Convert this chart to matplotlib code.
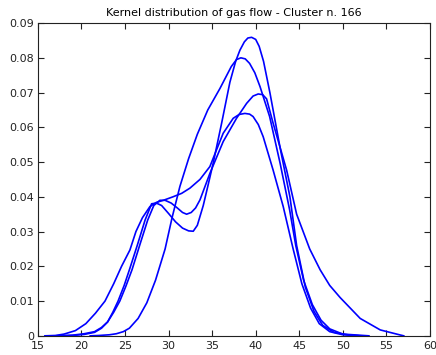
import matplotlib
matplotlib.use('Agg')
import matplotlib.pyplot as plt

# four kernel density curves
x_a = [18, 19, 20.3, 21.5, 22.3, 23, 23.6, 24.2, 24.9, 25.5, 26.4, 27.3, 28.05, 28.6, 29.2, 30.0, 30.8, 31.6, 32.3, 32.83,
       33.3, 33.98, 34.5, 35.12, 36.09, 37.04, 37.7, 38.19, 38.7, 39.1, 39.53, 40.0, 40.4, 40.9,
       41.63, 42.78, 43.93, 44.7, 45.7, 46.7, 47.7, 49, 51, 52]
y_a = [0, 0.0001, 0.0004, 0.001, 0.0022, 0.004, 0.0068, 0.010, 0.0145, 0.019, 0.026, 0.0333, 0.0380, 0.0382, 0.0375, 0.0352, 0.0328, 0.0310, 0.0302, 0.0301,
       0.0318, 0.0375, 0.0430, 0.0497, 0.0612, 0.0730, 0.0790, 0.0822, 0.0846, 0.0857, 0.0859, 0.0853, 0.0833, 0.0790,
       0.0700, 0.0544, 0.0400, 0.0260, 0.014, 0.007, 0.003, 0.001, 0.0001, 0]

x_b = [21, 22, 23.2, 24, 24.8, 25.5, 26.5, 27.5, 28.5, 29.6, 30.4, 31.3, 32.3, 33.3, 34.5, 35.9, 37.2, 37.8, 38.3,
       38.8, 39.3, 39.9, 40.5, 41.6, 42.8, 43.9, 44.6, 45.5, 46.5, 47.5, 48.5, 50, 53]
y_b = [0, 0.0001, 0.0003, 0.0006, 0.0012, 0.0022, 0.005, 0.0095, 0.016, 0.0250, 0.0340, 0.0430, 0.0510, 0.0580, 0.0650, 0.0712, 0.0775, 0.0795, 0.0800,
       0.0797, 0.0784, 0.0757, 0.0717, 0.0631, 0.0497, 0.0362, 0.0260, 0.016, 0.009, 0.0045, 0.002, 0.0005, 0]

x_c = [17, 19, 20.3, 21.5, 22.3, 23, 23.7, 24.4, 25.1, 25.8, 26.8, 27.6, 28.3, 29.0, 29.6, 30.3, 31.0, 31.6, 32.07, 32.6, 33.1, 33.6, 34.75,
       36.27, 37.8, 38.96, 39.7, 40.29, 40.8, 41.25, 42.0, 43.55, 44.7, 46.2, 47.4, 48.5, 49.7, 52, 54.3, 56.5, 57]
y_c = [0, 0.0002, 0.0006, 0.0012, 0.0024, 0.004, 0.0068, 0.010, 0.0143, 0.019, 0.027, 0.0333, 0.0375, 0.0390, 0.0390, 0.0382, 0.0368, 0.0355, 0.0350, 0.0355, 0.0368, 0.0391, 0.0468,
       0.0559, 0.0626, 0.0669, 0.0690, 0.0696, 0.0694, 0.0682, 0.0612, 0.0477, 0.0350, 0.0250, 0.019, 0.0145, 0.011, 0.005, 0.0017, 0.0003, 0]

x_d = [15.8, 17, 18, 19.3, 20.5, 21.6, 22.7, 23.7, 24.6, 25.56, 26.25, 27.0, 27.86, 28.6, 29.4, 30.5, 31.5, 32.45, 33.6, 34.74, 35.5, 36.27,
       37.42, 38.1, 38.76, 39.3, 39.7, 40.3, 40.86, 42.0, 43.16, 44.3, 45.3, 46.3, 47.3, 48.5, 50, 52]
y_d = [0, 0.0001, 0.0005, 0.0015, 0.0035, 0.0065, 0.010, 0.015, 0.020, 0.0247, 0.0300, 0.0340, 0.0372, 0.0384, 0.0390, 0.0400, 0.0410, 0.0425, 0.0450, 0.0487, 0.0535, 0.0583,
       0.0626, 0.0637, 0.0640, 0.0638, 0.0631, 0.0608, 0.0573, 0.0477, 0.0372, 0.0250, 0.015, 0.008, 0.0035, 0.0012, 0.0003, 0]

fig = plt.figure(figsize=(4.36, 3.55), dpi=100)
ax = fig.add_axes([0.087, 0.054, 0.899, 0.881])

for xs, ys in [(x_a, y_a), (x_b, y_b), (x_c, y_c), (x_d, y_d)]:
    ax.plot(xs, ys, color='#0000ff', linewidth=1.2)

ax.set_xlim(15, 60)
ax.set_ylim(0, 0.09)
ax.set_xticks(range(15, 61, 5))
ax.set_yticks([i / 100 for i in range(10)])
ax.set_yticklabels(['0'] + ['%.2f' % (i / 100) for i in range(1, 10)])
ax.tick_params(direction='in', length=4, width=0.8, top=True, right=True,
               labelsize=8, colors='#222222')
ax.tick_params(axis='x', pad=4)
ax.tick_params(axis='y', pad=3)
for s in ax.spines.values():
    s.set_linewidth(0.8)
    s.set_color('#222222')
ax.set_title('Kernel distribution of gas flow - Cluster n. 166', fontsize=8, pad=5)

fig.savefig('out.png', dpi=100)
